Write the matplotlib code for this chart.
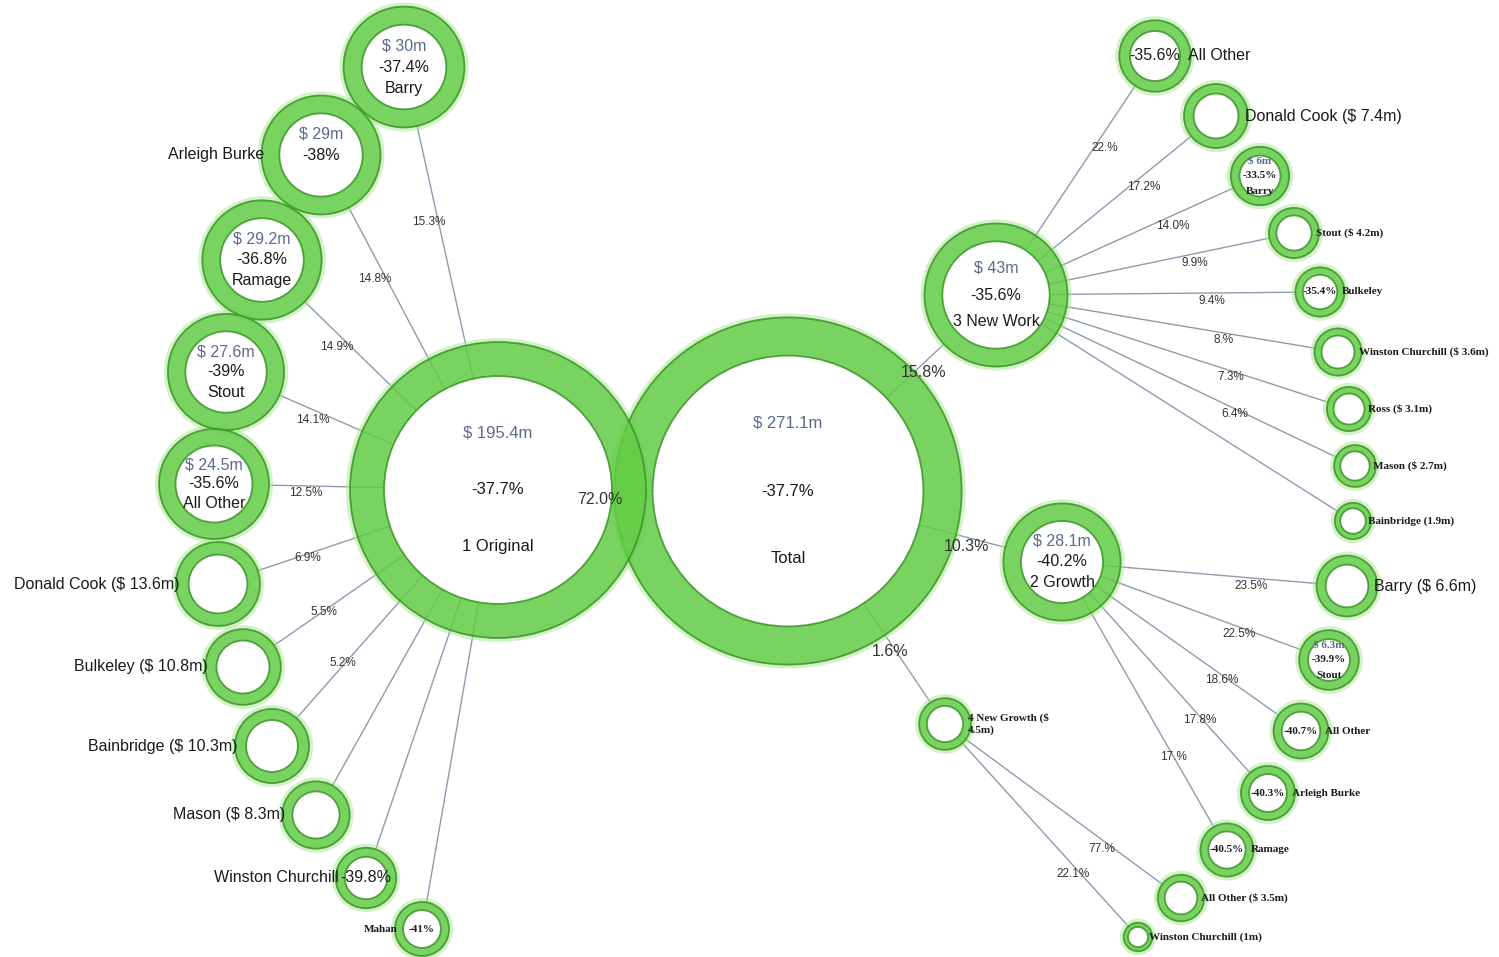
import numpy as np
import matplotlib.pyplot as plt
from matplotlib.patches import Circle, Wedge

plt.rcParams['font.family'] = ['Liberation Sans', 'DejaVu Sans']

# ---- data: $m, change vs prior, share of parent ----
total_name = 'Total'
total_value = 271.1
total_change = '-37.7%'

seg_names = ['1 Original', '3 New Work', '2 Growth', '4 New Growth']
seg_values = [195.4, 43, 28.1, 4.5]
seg_changes = ['-37.7%', '-35.6%', '-40.2%', None]
seg_shares = ['72.0%', '15.8%', '10.3%', '1.6%']

orig_names = ['Barry', 'Arleigh Burke', 'Ramage', 'Stout', 'All Other', 'Donald Cook',
              'Bulkeley', 'Bainbridge', 'Mason', 'Winston Churchill', 'Mahan']
orig_values = [30, 29, 29.2, 27.6, 24.5, 13.6, 10.8, 10.3, 8.3, 6.5, 5.0]
orig_changes = ['-37.4%', '-38%', '-36.8%', '-39%', '-35.6%', None, None, None, None, '-39.8%', '-41%']
orig_shares = ['15.3%', '14.8%', '14.9%', '14.1%', '12.5%', '6.9%', '5.5%', '5.2%', '', '', '']

nw_names = ['All Other', 'Donald Cook', 'Barry', 'Stout', 'Bulkeley', 'Winston Churchill',
            'Ross', 'Mason', 'Bainbridge']
nw_values = [9.5, 7.4, 6, 4.2, 4.0, 3.6, 3.1, 2.7, 1.9]
nw_changes = ['-35.6%', None, '-33.5%', None, '-35.4%', None, None, None, None]
nw_shares = ['22.%', '17.2%', '14.0%', '9.9%', '9.4%', '8.%', '7.3%', '6.4%', '']

gr_names = ['Barry', 'Stout', 'All Other', 'Arleigh Burke', 'Ramage']
gr_values = [6.6, 6.3, 5.2, 5.0, 4.8]
gr_changes = [None, '-39.9%', '-40.7%', '-40.3%', '-40.5%']
gr_shares = ['23.5%', '22.5%', '18.6%', '17.8%', '17.%']

ng_names = ['All Other', 'Winston Churchill']
ng_values = [3.5, 1.0]
ng_changes = [None, None]
ng_shares = ['77.%', '22.1%']

# ---- layout (pixels) ----
total_xy = (788, 491)
seg_xy = [(498, 490), (996, 295), (1062, 562), (945, 724)]
seg_frac = [0.23, 0.25, 0.3, 0.3]
seg_modes = ['in3', 'in3', 'in3', 'val2']

orig_xy = [(404, 67), (321, 155), (262, 260), (226, 372), (214, 484), (218, 584),
           (243, 667), (272, 746), (316, 815), (366, 878), (422, 929)]
orig_modes = ['in3', 'in2', 'in3', 'in3', 'in3', 'val', 'val', 'val', 'val', 'chg', 'chg']
orig_small = [False] * 10 + [True]

nw_xy = [(1155, 56), (1216, 116), (1260, 176), (1294, 233), (1320, 292), (1338, 352),
         (1349, 409), (1355, 466), (1353, 521)]
nw_modes = ['chg', 'val', 'in3', 'val', 'chg', 'val', 'val', 'val', 'valnd']
nw_small = [False, False] + [True] * 7

gr_xy = [(1347, 586), (1329, 660), (1301, 731), (1268, 793), (1227, 850)]
gr_modes = ['val', 'in3', 'chg', 'chg', 'chg']
gr_small = [False] + [True] * 4

ng_xy = [(1181, 898), (1138, 937)]
ng_modes = ['val', 'valnd']
ng_small = [True, True]

FILL = '#62cc44'
EDGE = '#3a9527'
GLOW = '#a8e690'
LINE = '#8c9cb0'
VALCOL = '#5a6a8c'
TXT = '#1a1a1a'

W, H = 1499, 957
fig = plt.figure(figsize=(W / 100, H / 100), dpi=100)
ax = fig.add_axes([0, 0, 1, 1])
ax.set_xlim(0, W)
ax.set_ylim(H, 0)
ax.axis('off')


def radius(v):
    return 10.3 * np.sqrt(v) + 4


def ring(xy, r, frac):
    ax.add_patch(Wedge(xy, r + 4, 0, 360, width=5, facecolor=GLOW, edgecolor='none',
                       alpha=0.5, zorder=2.5))
    ax.add_patch(Circle(xy, r * (1 - frac), facecolor='white', edgecolor='none', zorder=3))
    ax.add_patch(Wedge(xy, r, 0, 360, width=r * frac, facecolor=FILL, edgecolor=EDGE,
                       lw=1.3, alpha=0.85, zorder=4))


def edge(p_xy, p_rin, c_xy, c_r, share, off, fs):
    p = np.array(p_xy, float)
    c = np.array(c_xy, float)
    u = (c - p) / np.linalg.norm(c - p)
    a = p + u * p_rin
    b = c - u * c_r
    ax.plot([a[0], b[0]], [a[1], b[1]], color=LINE, lw=1.0, zorder=2)
    if share:
        m = p + 0.65 * (c - p)
        ax.text(m[0] + off[0], m[1] + off[1], share, fontsize=fs, ha='center', va='center',
                color='#333333', zorder=6)


def node_text(xy, r, rin, name, value, change, mode, small, side):
    x, y = xy
    if small:
        kw = dict(fontsize=8, family='Liberation Serif', fontweight='bold', zorder=6)
        d = 15
    else:
        kw = dict(fontsize=11.5, zorder=6)
        d = 0.5 * rin
    if mode in ('in3', 'in2'):
        ax.text(x, y - d, f'$ {value:g}m', color=VALCOL, ha='center', va='center', **kw)
        ax.text(x, y, change, color=TXT, ha='center', va='center', **kw)
        if mode == 'in3':
            ax.text(x, y + d, name, color=TXT, ha='center', va='center', **kw)
            return
        label = name
    elif mode == 'chg':
        ax.text(x, y, change, color=TXT, ha='center', va='center', **kw)
        label = name
    elif mode == 'val':
        label = f'{name} ($ {value:g}m)'
    elif mode == 'val2':
        label = f'{name} ($\n{value:g}m)'
    else:
        label = f'{name} ({value:g}m)'
    if side < 0:
        ax.text(x - r + 3, y, label, color=TXT, ha='right', va='center', **kw)
    else:
        ax.text(x + r - 3, y, label, color=TXT, ha='left', va='center', linespacing=1.3, **kw)


# total
r_tot = radius(total_value)
ring(total_xy, r_tot, 0.22)
rin_tot = r_tot * 0.78
d = 0.5 * rin_tot
ax.text(total_xy[0], total_xy[1] - d, f'$ {total_value:g}m', color=VALCOL, fontsize=12,
        ha='center', va='center', zorder=6)
ax.text(total_xy[0], total_xy[1], total_change, color=TXT, fontsize=12,
        ha='center', va='center', zorder=6)
ax.text(total_xy[0], total_xy[1] + d, total_name, color=TXT, fontsize=12,
        ha='center', va='center', zorder=6)

# segments
seg_r = []
for i, name in enumerate(seg_names):
    r = radius(seg_values[i])
    seg_r.append(r)
    ring(seg_xy[i], r, seg_frac[i])
    edge(total_xy, rin_tot, seg_xy[i], r, seg_shares[i], (0, 9), 11.5)
    rin = r * (1 - seg_frac[i])
    if seg_modes[i] == 'in3':
        fs = 12 if i == 0 else 11.5
        dd = 0.5 * rin
        x, y = seg_xy[i]
        ax.text(x, y - dd, f'$ {seg_values[i]:g}m', color=VALCOL, fontsize=fs,
                ha='center', va='center', zorder=6)
        ax.text(x, y, seg_changes[i], color=TXT, fontsize=fs, ha='center', va='center', zorder=6)
        ax.text(x, y + dd, name, color=TXT, fontsize=fs, ha='center', va='center', zorder=6)
    else:
        node_text(seg_xy[i], r, rin, name, seg_values[i], seg_changes[i], seg_modes[i], True, 1)

groups = [
    (0, orig_names, orig_values, orig_changes, orig_shares, orig_xy, orig_modes, orig_small, -1, (-8, 7)),
    (1, nw_names, nw_values, nw_changes, nw_shares, nw_xy, nw_modes, nw_small, 1, (5, 8)),
    (2, gr_names, gr_values, gr_changes, gr_shares, gr_xy, gr_modes, gr_small, 1, (4, 8)),
    (3, ng_names, ng_values, ng_changes, ng_shares, ng_xy, ng_modes, ng_small, 1, (3, 12)),
]
for p, names, values, changes, shares, xys, modes, small, side, off in groups:
    p_rin = seg_r[p] * (1 - seg_frac[p])
    for i, name in enumerate(names):
        r = radius(values[i])
        ring(xys[i], r, 0.3)
        edge(seg_xy[p], p_rin, xys[i], r, shares[i], off, 8.5)
        node_text(xys[i], r, r * 0.7, name, values[i], changes[i], modes[i], small[i], side)

fig.savefig('out.png', dpi=100, facecolor='white')
